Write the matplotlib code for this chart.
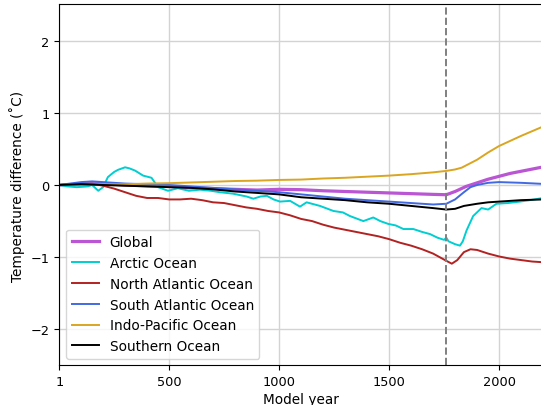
import matplotlib
matplotlib.use("Agg")
import matplotlib.pyplot as plt

# values (years, temperature difference in degC)
GLOBAL_YEARS = [1, 100, 200, 300, 400, 500, 600, 700, 800, 900, 1000, 1100, 1200,
                1300, 1400, 1500, 1600, 1700, 1760, 1800, 1850, 1900, 1950, 2000,
                2050, 2100, 2150, 2200]
GLOBAL_VALUES = [0.0, 0.01, 0.02, 0.0, -0.01, -0.02, -0.04, -0.05, -0.06, -0.07,
                 -0.06, -0.065, -0.08, -0.09, -0.1, -0.11, -0.12, -0.13, -0.135,
                 -0.09, -0.02, 0.03, 0.08, 0.12, 0.16, 0.19, 0.22, 0.25]

ARCTIC_YEARS = [1, 40, 80, 130, 150, 178, 200, 222, 250, 268, 300, 320, 345, 382,
                420, 450, 495, 540, 590, 640, 690, 731, 790, 853, 883, 915, 944,
                975, 1004, 1050, 1095, 1125, 1186, 1247, 1290, 1322, 1383, 1428,
                1460, 1497, 1530, 1565, 1610, 1650, 1686, 1720, 1750, 1760, 1770,
                1800, 1822, 1835, 1852, 1882, 1920, 1950, 1988, 2040, 2094, 2140,
                2200]
ARCTIC_VALUES = [0.0, -0.02, -0.03, -0.02, 0.0, -0.08, -0.03, 0.11, 0.18, 0.21,
                 0.245, 0.23, 0.2, 0.13, 0.1, -0.03, -0.08, -0.045, -0.08, -0.065,
                 -0.08, -0.1, -0.12, -0.16, -0.19, -0.16, -0.15, -0.2, -0.23,
                 -0.22, -0.3, -0.24, -0.29, -0.36, -0.38, -0.43, -0.5, -0.45,
                 -0.5, -0.54, -0.56, -0.61, -0.61, -0.65, -0.68, -0.73, -0.76,
                 -0.73, -0.78, -0.82, -0.84, -0.78, -0.63, -0.43, -0.32, -0.34,
                 -0.26, -0.25, -0.23, -0.21, -0.18]

NATL_YEARS = [1, 50, 100, 150, 200, 250, 300, 350, 400, 450, 500, 550, 600, 650,
              700, 750, 800, 850, 900, 950, 1000, 1050, 1100, 1150, 1200, 1250,
              1300, 1350, 1400, 1450, 1500, 1550, 1600, 1650, 1700, 1760, 1785,
              1810, 1840, 1870, 1900, 1950, 2000, 2050, 2100, 2150, 2200]
NATL_VALUES = [0.0, 0.01, 0.02, 0.02, -0.01, -0.05, -0.1, -0.15, -0.18, -0.18,
               -0.2, -0.2, -0.19, -0.21, -0.24, -0.25, -0.28, -0.31, -0.33, -0.36,
               -0.38, -0.42, -0.47, -0.5, -0.55, -0.59, -0.62, -0.65, -0.68, -0.71,
               -0.75, -0.8, -0.84, -0.89, -0.95, -1.05, -1.09, -1.04, -0.93, -0.89,
               -0.9, -0.95, -0.99, -1.02, -1.04, -1.06, -1.07]

SATL_YEARS = [1, 50, 100, 150, 200, 300, 400, 500, 600, 700, 800, 900, 1000, 1100,
              1200, 1300, 1400, 1500, 1600, 1700, 1760, 1800, 1840, 1870, 1900,
              1950, 2000, 2100, 2200]
SATL_VALUES = [0.0, 0.02, 0.04, 0.05, 0.04, 0.02, 0.01, 0.0, -0.02, -0.04, -0.06,
               -0.08, -0.1, -0.13, -0.16, -0.19, -0.21, -0.23, -0.25, -0.27, -0.26,
               -0.2, -0.1, -0.03, 0.0, 0.03, 0.04, 0.03, 0.015]

INDO_YEARS = [1, 100, 200, 300, 400, 500, 600, 700, 800, 900, 1000, 1100, 1200,
              1300, 1400, 1500, 1600, 1700, 1760, 1800, 1830, 1900, 1950, 2000,
              2050, 2100, 2150, 2200]
INDO_VALUES = [0.0, 0.0, 0.01, 0.01, 0.02, 0.025, 0.035, 0.045, 0.055, 0.06, 0.07,
               0.075, 0.09, 0.1, 0.115, 0.13, 0.15, 0.175, 0.195, 0.215, 0.24,
               0.35, 0.45, 0.54, 0.61, 0.68, 0.745, 0.81]

SOUTH_YEARS = [1, 100, 200, 300, 400, 500, 600, 700, 800, 900, 1000, 1100, 1200,
               1300, 1400, 1500, 1600, 1700, 1760, 1800, 1840, 1900, 1950, 2000,
               2100, 2200]
SOUTH_VALUES = [0.0, 0.01, 0.0, -0.01, -0.02, -0.03, -0.04, -0.06, -0.09, -0.11,
                -0.13, -0.17, -0.19, -0.21, -0.24, -0.26, -0.29, -0.32, -0.34,
                -0.33, -0.29, -0.26, -0.24, -0.23, -0.21, -0.2]

SWITCH_YEAR = 1760
X_TICKS = [1, 500, 1000, 1500, 2000]

plt.rcParams["font.size"] = 9.8
plt.rcParams["xtick.labelsize"] = 9.3
plt.rcParams["ytick.labelsize"] = 9.3

fig = plt.figure(figsize=(5.41, 4.06), dpi=100)
ax = fig.add_axes([0.1096, 0.0973, 0.8943, 0.8892])

ax.plot(GLOBAL_YEARS, GLOBAL_VALUES, color="mediumorchid", linewidth=2.3, label="Global")
ax.plot(ARCTIC_YEARS, ARCTIC_VALUES, color="darkturquoise", linewidth=1.4, label="Arctic Ocean")
ax.plot(NATL_YEARS, NATL_VALUES, color="firebrick", linewidth=1.4, label="North Atlantic Ocean")
ax.plot(SATL_YEARS, SATL_VALUES, color="royalblue", linewidth=1.4, label="South Atlantic Ocean")
ax.plot(INDO_YEARS, INDO_VALUES, color="goldenrod", linewidth=1.4, label="Indo-Pacific Ocean")
ax.plot(SOUTH_YEARS, SOUTH_VALUES, color="black", linewidth=1.4, label="Southern Ocean")

ax.axvline(SWITCH_YEAR, color="grey", linestyle="--", linewidth=1.4)

ax.set_xlim(1, 2200)
ax.set_ylim(-2.5, 2.5)
ax.set_xticks(X_TICKS)
ax.set_yticks([-2, -1, 0, 1, 2])
ax.grid(True, color="lightgray", linewidth=1)
ax.set_axisbelow(True)
ax.set_xlabel("Model year", labelpad=3)
ax.set_ylabel("Temperature difference (˚C)")
ax.legend(loc="lower left")

fig.savefig("out.png", dpi=100)
